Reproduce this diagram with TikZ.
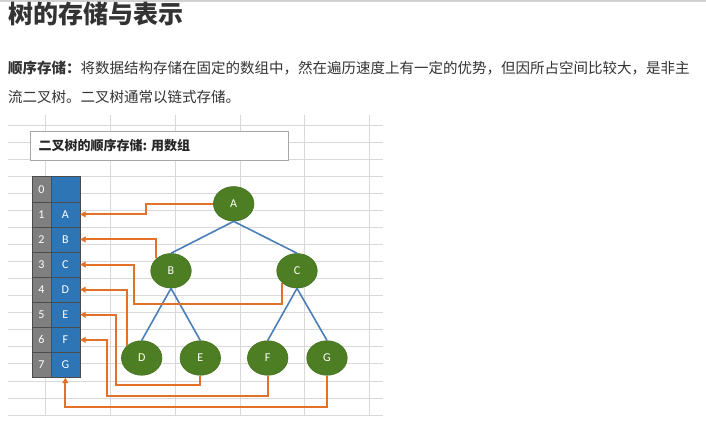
\documentclass[tikz,border=0pt]{standalone}
\usepackage{fontspec}
\setmainfont{Carlito}
\newfontfamily\cjk{Noto Sans CJK SC}
\usetikzlibrary{shapes.geometric,arrows.meta}
\definecolor{gridc}{HTML}{D9D9D9}
\definecolor{treeg}{HTML}{4E7E24}
\definecolor{treegd}{HTML}{44721D}
\definecolor{arrblue}{HTML}{2E75B6}
\definecolor{arrgray}{HTML}{7F7F7F}
\definecolor{orangec}{HTML}{E2712A}
\definecolor{edgeb}{HTML}{4A7EBB}
\definecolor{txt}{HTML}{333333}
\tikzset{
  gridline/.style={draw=gridc, line width=0.8pt},
  tnode/.style={ellipse, fill=treeg, draw=treegd, line width=0.6pt, minimum width=40.5pt, minimum height=34.5pt, inner sep=0pt, text=white, font=\fontsize{12}{12}\selectfont},
  tedge/.style={draw=edgeb, line width=1.6pt},
  arr/.style={draw=orangec, line width=2pt, -{Triangle[length=5.5pt,width=6pt]}},
  numcell/.style={rectangle, fill=arrgray, draw=black!70, line width=0.4pt, minimum width=18.4pt, minimum height=25.1pt, inner sep=0pt, text=white, font=\fontsize{12}{12}\selectfont},
  valcell/.style={rectangle, fill=arrblue, draw=black!70, line width=0.4pt, minimum width=29.3pt, minimum height=25.1pt, inner sep=0pt, text=white, font=\fontsize{12}{12}\selectfont},
}
\begin{document}
\begin{tikzpicture}[x=1pt,y=-1pt]
\useasboundingbox (0,0) rectangle (706,422);
\fill[white] (0,0) rectangle (706,422);
\fill[black!18] (0,0) rectangle (706,2.5);
% texts
\node[anchor=west, inner sep=0pt, text=txt, font=\cjk\bfseries\fontsize{25}{25}\selectfont] (title) at (8,14) {树的存储与表示};
\node[anchor=west, inner sep=0pt, text=txt, font=\cjk\fontsize{14.5}{14.5}\selectfont] (p1) at (8,68) {\textbf{顺序存储：}将数据结构存储在固定的数组中，然在遍历速度上有一定的优势，但因所占空间比较大，是非主};
\node[anchor=west, inner sep=0pt, text=txt, font=\cjk\fontsize{14.5}{14.5}\selectfont] (p2) at (8,97) {流二叉树。二叉树通常以链式存储。};
% grid
\foreach \k in {0,...,17} {
  \draw[gridline] (7.5,{125+17.06*\k}) -- (383,{125+17.06*\k});
}
\foreach \k in {0,...,5} {
  \draw[gridline] ({45.5+64.8*\k},115) -- ({45.5+64.8*\k},416);
}
% caption box
\node[rectangle, draw=black!35, fill=white, line width=0.8pt, minimum width=258pt, minimum height=29pt, inner sep=0pt, anchor=north west] (capbox) at (30,131.5) {};
\node[anchor=west, inner sep=0pt, font=\cjk\bfseries\fontsize{13}{13}\selectfont, text=black!85] (cap) at (38.5,146) {二叉树的顺序存储: 用数组};
% array
\foreach \i/\v in {0/{},1/A,2/B,3/C,4/D,5/E,6/F,7/G} {
  \node[numcell] (num-\i) at (41.5,{189.25+25.1*\i}) {\i};
  \node[valcell] (cell-\i) at (65.35,{189.25+25.1*\i}) {\v};
}
% tree
\node[tnode] (A) at (233.7,203.8) {A};
\node[tnode] (B) at (171,270.8) {B};
\node[tnode] (C) at (297,270.8) {C};
\node[tnode] (D) at (141.7,358) {D};
\node[tnode] (E) at (200.3,358) {E};
\node[tnode] (F) at (267.7,358) {F};
\node[tnode] (G) at (327,358) {G};
\draw[tedge] (A.south) -- (B.north);
\draw[tedge] (A.south) -- (C.north);
\draw[tedge] (B.south) -- (D.north);
\draw[tedge] (B.south) -- (E.north);
\draw[tedge] (C.south) -- (F.north);
\draw[tedge] (C.south) -- (G.north);
% connectors
\coordinate (ca) at (145.5,203.8);
\coordinate (cc) at (134.3,304.3);
\coordinate (ce) at (115.7,385);
\coordinate (cf) at (106.7,396);
\coordinate (cg) at (65.35,406.7);
\draw[arr] (A.west) -- (ca) |- (cell-1.east);
\draw[arr] (B.north west) |- (cell-2.east);
\draw[arr] (C.south west) |- (cc) |- (cell-3.east);
\draw[arr] (D.north west) |- (cell-4.east);
\draw[arr] (E.south) |- (ce) |- (cell-5.east);
\draw[arr] (F.south) |- (cf) |- (cell-6.east);
\draw[arr] (G.south) |- (cg) -- (cell-7.south);
\end{tikzpicture}
\end{document}
